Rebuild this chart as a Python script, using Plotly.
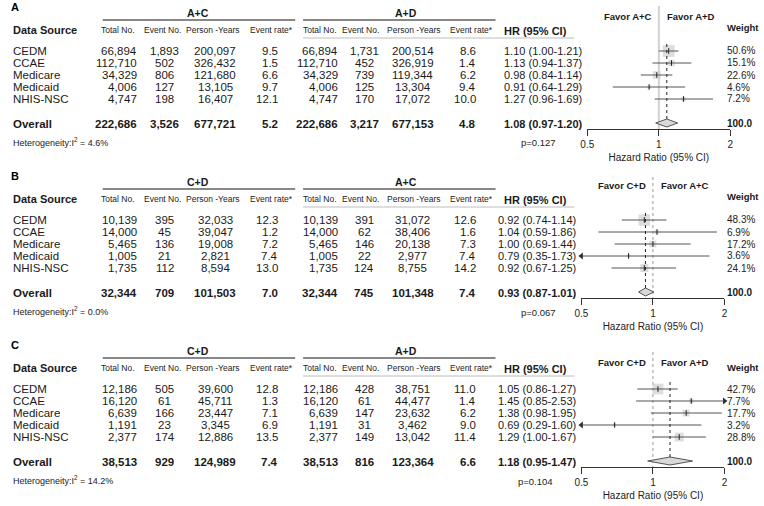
import math
import plotly.graph_objects as go

W, H = 764, 506
FONT = "Liberation Sans, Arial, Helvetica, sans-serif"
TXT = "#1a1a1a"

# ------------------------------------------------------------------ data
sources = ["CEDM", "CCAE", "Medicare", "Medicaid", "NHIS-NSC"]
col_headers = ["Total No.", "Event No.", "Person -Years", "Event rate*"]

# Panel A : A+C vs A+D
A_groups = ["A+C", "A+D"]
A_favor = ["Favor A+C", "Favor A+D"]
A_g1_total = [66894, 112710, 34329, 4006, 4747]
A_g1_events = [1893, 502, 806, 127, 198]
A_g1_py = [200097, 326432, 121680, 13105, 16407]
A_g1_rate = [9.5, 1.5, 6.6, 9.7, 12.1]
A_g1_overall = [222686, 3526, 677721, 5.2]
A_g2_total = [66894, 112710, 34329, 4006, 4747]
A_g2_events = [1731, 452, 739, 125, 170]
A_g2_py = [200514, 326919, 119344, 13304, 17072]
A_g2_rate = [8.6, 1.4, 6.2, 9.4, 10.0]
A_g2_overall = [222686, 3217, 677153, 4.8]
A_hr = [1.10, 1.13, 0.98, 0.91, 1.27]
A_lo = [1.00, 0.94, 0.84, 0.64, 0.96]
A_hi = [1.21, 1.37, 1.14, 1.29, 1.69]
A_overall = [1.08, 0.97, 1.20]
A_weight = [50.6, 15.1, 22.6, 4.6, 7.2]
A_i2 = 4.6
A_p = "0.127"

# Panel B : C+D vs A+C
B_groups = ["C+D", "A+C"]
B_favor = ["Favor C+D", "Favor A+C"]
B_g1_total = [10139, 14000, 5465, 1005, 1735]
B_g1_events = [395, 45, 136, 21, 112]
B_g1_py = [32033, 39047, 19008, 2821, 8594]
B_g1_rate = [12.3, 1.2, 7.2, 7.4, 13.0]
B_g1_overall = [32344, 709, 101503, 7.0]
B_g2_total = [10139, 14000, 5465, 1005, 1735]
B_g2_events = [391, 62, 146, 22, 124]
B_g2_py = [31072, 38406, 20138, 2977, 8755]
B_g2_rate = [12.6, 1.6, 7.3, 7.4, 14.2]
B_g2_overall = [32344, 745, 101348, 7.4]
B_hr = [0.92, 1.04, 1.00, 0.79, 0.92]
B_lo = [0.74, 0.59, 0.69, 0.35, 0.67]
B_hi = [1.14, 1.86, 1.44, 1.73, 1.25]
B_overall = [0.93, 0.87, 1.01]
B_weight = [48.3, 6.9, 17.2, 3.6, 24.1]
B_i2 = 0.0
B_p = "0.067"

# Panel C : C+D vs A+D
C_groups = ["C+D", "A+D"]
C_favor = ["Favor C+D", "Favor A+D"]
C_g1_total = [12186, 16120, 6639, 1191, 2377]
C_g1_events = [505, 61, 166, 23, 174]
C_g1_py = [39600, 45711, 23447, 3345, 12886]
C_g1_rate = [12.8, 1.3, 7.1, 6.9, 13.5]
C_g1_overall = [38513, 929, 124989, 7.4]
C_g2_total = [12186, 16120, 6639, 1191, 2377]
C_g2_events = [428, 61, 147, 31, 149]
C_g2_py = [38751, 44477, 23632, 3462, 13042]
C_g2_rate = [11.0, 1.4, 6.2, 9.0, 11.4]
C_g2_overall = [38513, 816, 123364, 6.6]
C_hr = [1.05, 1.45, 1.38, 0.69, 1.29]
C_lo = [0.86, 0.85, 0.98, 0.29, 1.00]
C_hi = [1.27, 2.53, 1.95, 1.60, 1.67]
C_overall = [1.18, 0.95, 1.47]
C_weight = [42.7, 7.7, 17.7, 3.2, 28.8]
C_i2 = 14.2
C_p = "0.104"

x_ticks = [0.5, 1, 2]
x_tick_text = ["0.5", "1", "2"]
REF_HR = 1.0

panels = [
    dict(label="A", groups=A_groups, favor=A_favor,
         g1=[A_g1_total, A_g1_events, A_g1_py, A_g1_rate], g1o=A_g1_overall,
         g2=[A_g2_total, A_g2_events, A_g2_py, A_g2_rate], g2o=A_g2_overall,
         hr=A_hr, lo=A_lo, hi=A_hi, ov=A_overall, w=A_weight, i2=A_i2, p=A_p),
    dict(label="B", groups=B_groups, favor=B_favor,
         g1=[B_g1_total, B_g1_events, B_g1_py, B_g1_rate], g1o=B_g1_overall,
         g2=[B_g2_total, B_g2_events, B_g2_py, B_g2_rate], g2o=B_g2_overall,
         hr=B_hr, lo=B_lo, hi=B_hi, ov=B_overall, w=B_weight, i2=B_i2, p=B_p),
    dict(label="C", groups=C_groups, favor=C_favor,
         g1=[C_g1_total, C_g1_events, C_g1_py, C_g1_rate], g1o=C_g1_overall,
         g2=[C_g2_total, C_g2_events, C_g2_py, C_g2_rate], g2o=C_g2_overall,
         hr=C_hr, lo=C_lo, hi=C_hi, ov=C_overall, w=C_weight, i2=C_i2, p=C_p),
]

# ------------------------------------------------------------------ layout constants (pixels)
panel_dy = [0, 169, 338]
forest_px = [(588, 733), (582, 727), (582, 727)]
hr_x = [503, 496, 496]
p_x = [557, 557, 554]
favor_y = [16, 16, 24]
weight_y = [27, 27, 29]
ref_top = [6, 8, 14]
ref_style = [dict(color="#d2d2d2", width=2, dash="solid"),
             dict(color="#9a9a9a", width=1, dash="dot"),
             dict(color="#9a9a9a", width=1, dash="dot")]
row_y = [51, 63, 75, 87, 99]
overall_y = 124
axis_y = 129
XMIN, XMAX = 0.5, 2.0

# (value x, anchor, header centre x)
cols = [
    (133, "right", 112), (160, "center", 158), (211, "center", 209), (276, "right", 268),
    (336, "right", 317), (362, "center", 358), (411, "center", 412), (476, "right", 471),
]

annotations = []
shapes = []


def px(x):
    return x / W


def py(y):
    return 1 - y / H


def txt(x, y, s, size=11, anchor="left", bold=False, color=TXT):
    annotations.append(dict(
        x=px(x), y=py(y), xref="paper", yref="paper",
        text=f"<b>{s}</b>" if bold else s, showarrow=False, xanchor=anchor,
        yanchor="middle", borderpad=0, font=dict(size=size, family=FONT, color=color)))


def hline(x0, x1, y, color="#111", width=1, dash="solid"):
    shapes.append(dict(type="line", xref="paper", yref="paper", x0=px(x0), x1=px(x1),
                       y0=py(y), y1=py(y), line=dict(color=color, width=width, dash=dash)))


def fmt_num(v):
    return f"{v:,}"


def fmt_rate(v):
    return f"{v:.1f}"


fig = go.Figure()
layout_axes = {}

for k, (pn, dy) in enumerate(zip(panels, panel_dy)):
    ax = "x" if k == 0 else f"x{k + 1}"
    axname = "xaxis" if k == 0 else f"xaxis{k + 1}"

    # ---------------- table
    txt(3, dy + 7, pn["label"], size=11, bold=True, color="#000")
    txt(194, dy + 13, pn["groups"][0], size=10.5, anchor="center", bold=True)
    txt(404, dy + 13, pn["groups"][1], size=10.5, anchor="center", bold=True)
    hline(97, 292, dy + 20)
    hline(300, 495, dy + 20)
    txt(5, dy + 30, "Data Source", size=11, bold=True)
    for i, (vx, anc, hx) in enumerate(cols):
        txt(hx, dy + 30, col_headers[i % 4], size=8.5, anchor="center", color="#222")
    txt(536, dy + 31, "HR (95% CI)", size=11, anchor="center", bold=True)
    hline(300, 575, dy + 38, color="#bdbdbd", width=1)

    fmts = [fmt_num, fmt_num, fmt_num, fmt_rate]
    series = pn["g1"] + pn["g2"]
    for r, src in enumerate(sources):
        y = dy + row_y[r]
        txt(5, y, src, size=11.5)
        for c, (vx, anc, hx) in enumerate(cols):
            txt(vx, y, fmts[c % 4](series[c][r]), size=11.5, anchor=anc)
        txt(hr_x[k], y, f"{pn['hr'][r]:.2f} ({pn['lo'][r]:.2f}-{pn['hi'][r]:.2f})", size=11)
        txt(729, y, f"{pn['w'][r]:.1f}%", size=10, color="#222")

    yo = dy + overall_y
    txt(5, yo, "Overall", size=11.5, bold=True)
    ov_vals = pn["g1o"] + pn["g2o"]
    for c, (vx, anc, hx) in enumerate(cols):
        txt(vx, yo, fmts[c % 4](ov_vals[c]), size=11.5, anchor=anc, bold=True)
    ov = pn["ov"]
    txt(hr_x[k], yo, f"{ov[0]:.2f} ({ov[1]:.2f}-{ov[2]:.2f})", size=11, bold=True)
    txt(729, yo - 1, "100.0", size=10, bold=True)
    txt(5, dy + 142, f"Heterogeneity:I<sup>2</sup> = {pn['i2']:.1f}%", size=9, color="#222")
    txt(p_x[k], dy + 143, f"p={pn['p']}", size=9.5, anchor="right", color="#222")

    # ---------------- forest
    txt(729, dy + weight_y[k], "Weight", size=9.5, bold=True)
    # annotations on a log axis take log10 positions
    for side, (anc, shift) in enumerate([("right", -6), ("left", 7)]):
        annotations.append(dict(x=math.log10(REF_HR), y=py(dy + favor_y[k]), xref=ax, yref="paper",
                                text=f"<b>{pn['favor'][side]}</b>", showarrow=False, xanchor=anc,
                                yanchor="middle", xshift=shift, borderpad=0,
                                font=dict(size=9.5, family=FONT, color=TXT)))

    # reference line at HR = 1 and dotted line at overall estimate
    shapes.append(dict(type="line", xref=ax, yref="y", x0=REF_HR, x1=REF_HR,
                       y0=dy + ref_top[k], y1=dy + axis_y,
                       line=ref_style[k], layer="below"))
    shapes.append(dict(type="line", xref=ax, yref="y", x0=ov[0], x1=ov[0],
                       y0=dy + 44, y1=dy + overall_y - 4,
                       line=dict(color="#222", width=1, dash="dot")))

    ys = [dy + v for v in row_y]
    # squares sized by weight
    fig.add_trace(go.Scatter(
        x=pn["hr"], y=ys, xaxis=ax, yaxis="y", mode="markers", cliponaxis=False,
        marker=dict(symbol="square", color="#cfcfcf",
                    size=[16.5 * math.sqrt(w / 100) for w in pn["w"]], line=dict(width=0)),
        hoverinfo="skip"))
    # CI lines (clipped to axis range)
    lx, ly = [], []
    for r in range(len(sources)):
        lx += [max(pn["lo"][r], XMIN), min(pn["hi"][r], XMAX), None]
        ly += [ys[r], ys[r], None]
    fig.add_trace(go.Scatter(x=lx, y=ly, xaxis=ax, yaxis="y", mode="lines", cliponaxis=False,
                             line=dict(color="#555", width=1), hoverinfo="skip"))
    # point estimate ticks
    fig.add_trace(go.Scatter(
        x=pn["hr"], y=ys, xaxis=ax, yaxis="y", mode="markers", cliponaxis=False,
        marker=dict(symbol="line-ns", size=4, line=dict(color="#222", width=1)),
        hoverinfo="skip"))
    # arrows for CIs outside the axis range
    al = [(XMIN, ys[r]) for r in range(len(sources)) if pn["lo"][r] < XMIN]
    ar = [(XMAX, ys[r]) for r in range(len(sources)) if pn["hi"][r] > XMAX]
    if al:
        fig.add_trace(go.Scatter(x=[a[0] for a in al], y=[a[1] for a in al], xaxis=ax, yaxis="y",
                                 mode="markers", cliponaxis=False,
                                 marker=dict(symbol="triangle-left", size=6, color="#333"),
                                 hoverinfo="skip"))
    if ar:
        fig.add_trace(go.Scatter(x=[a[0] for a in ar], y=[a[1] for a in ar], xaxis=ax, yaxis="y",
                                 mode="markers", cliponaxis=False,
                                 marker=dict(symbol="triangle-right", size=6, color="#333"),
                                 hoverinfo="skip"))
    # overall diamond
    yd = dy + overall_y - 1
    fig.add_trace(go.Scatter(
        x=[ov[1], ov[0], ov[2], ov[0], ov[1]], y=[yd, yd - 4, yd, yd + 4, yd],
        xaxis=ax, yaxis="y", mode="lines", fill="toself", fillcolor="#d9d9d9",
        line=dict(color="#555", width=1), cliponaxis=False, hoverinfo="skip"))

    x0p, x1p = forest_px[k]
    layout_axes[axname] = dict(
        type="log", range=[math.log10(XMIN), math.log10(XMAX)],
        domain=[x0p / W, x1p / W], anchor="free", position=py(dy + axis_y),
        showline=True, linecolor="#333", linewidth=1, ticks="outside", ticklen=6,
        tickcolor="#333", tickvals=x_ticks, ticktext=x_tick_text,
        tickfont=dict(size=10, family=FONT, color="#222"),
        showgrid=False, zeroline=False, fixedrange=True,
        title=dict(text="Hazard Ratio (95% CI)", standoff=4,
                   font=dict(size=10, family=FONT, color="#222")))

fig.update_layout(
    width=W, height=H, margin=dict(l=0, r=0, t=0, b=0),
    paper_bgcolor="white", plot_bgcolor="rgba(0,0,0,0)", showlegend=False,
    yaxis=dict(range=[H, 0], domain=[0, 1], visible=False, fixedrange=True),
    annotations=annotations, shapes=shapes, **layout_axes)

fig.write_html("out.html", config={"displayModeBar": False},
               post_script="document.body.style.margin='0';document.body.style.padding='0';")
